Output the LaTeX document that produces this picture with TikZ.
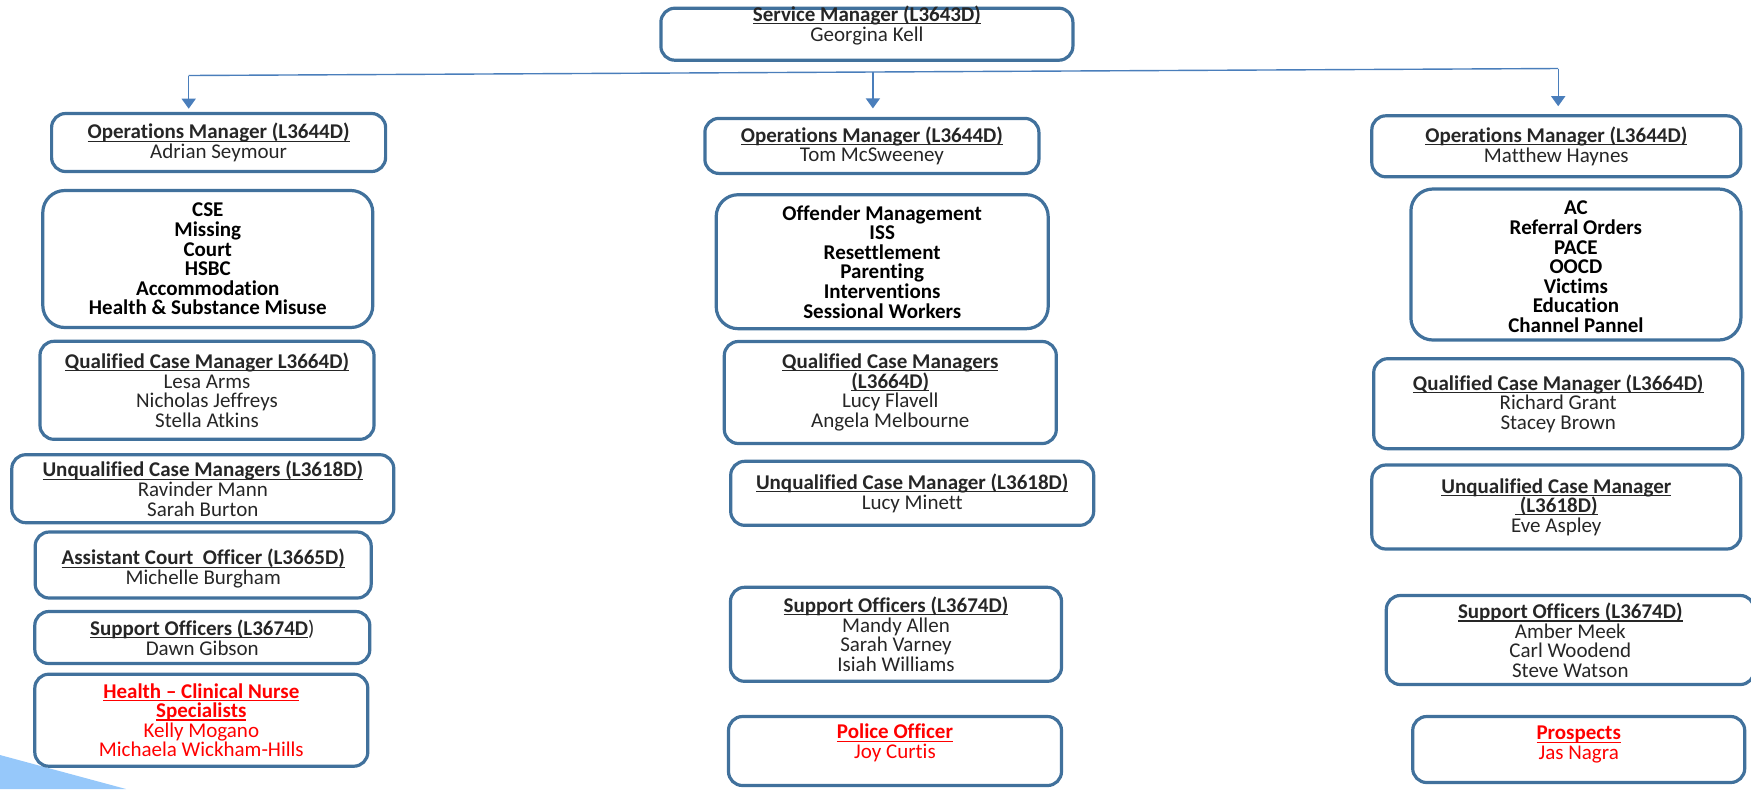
\documentclass[tikz,border=0pt]{standalone}
\usepackage{fontspec}
\setmainfont{Carlito}[Ligatures={TeX,NoCommon}]
\usetikzlibrary{arrows.meta}

\definecolor{rand}{RGB}{65,113,156}
\definecolor{verbind}{RGB}{74,126,187}
\definecolor{hoek}{RGB}{150,200,250}

% vet en onderstreept, streep dicht onder de basislijn
\newcommand{\kop}[1]{\sbox0{\textbf{#1}}\rlap{\rule[-1.4pt]{\wd0}{0.55pt}}\usebox0}

\begin{document}
\begin{tikzpicture}[x=0.5pt,y=-0.5pt,>={Triangle[width=7pt,length=5pt]}]

% --- Stijldefinities ---
\tikzset{
    vak/.style={
        draw=rand,
        line width=1.6pt,
        rounded corners=7pt,
        inner sep=1pt,
        align=center,
        font=\fontsize{10.5}{9.8}\selectfont,
        text=black!85
    },
    taken/.style={
        vak,
        rounded corners=11pt,
        font=\fontsize{10.5}{9.8}\selectfont\bfseries,
        text=black
    },
    rood/.style={text=red},
    lijn/.style={draw=verbind, line width=0.7pt},
    pijl/.style={
        ->,
        lijn
    }
}

\useasboundingbox (0,0) rectangle (1751,789);
\fill[hoek] (0,755) -- (126,789) -- (0,789) -- cycle;

% --- Knooppunten (Nodes) ---
\node[vak, minimum width=206pt, minimum height=26pt, text height=15.4pt, text depth=8.6pt] (sm) at (866.9,34.2)
    {\kop{Service Manager (L3643D)}\\Georgina Kell};

% linker kolom
\node[vak, minimum width=167pt, minimum height=29pt] (omA) at (218.6,142.5) {\kop{Operations Manager (L3644D)}\\Adrian Seymour};
\node[taken, minimum width=165pt, minimum height=68.5pt] (takA) at (207.8,259) {CSE\\Missing\\Court\\HSBC\\Accommodation\\Health \& Substance Misuse};
\node[vak, minimum width=167pt, minimum height=49pt] (qualA) at (207,390.3) {\kop{Qualified Case Manager L3664D)}\\Lesa Arms\\Nicholas Jeffreys\\Stella Atkins};
\node[vak, minimum width=191pt, minimum height=34pt] (unqA) at (202.8,488.7) {\kop{Unqualified Case Managers (L3618D)}\\Ravinder Mann\\Sarah Burton};
\node[vak, minimum width=168pt, minimum height=33pt, text height=22pt, text depth=2.5pt] (hcoA) at (203.2,565) {\kop{Assistant Court~ Officer (L3665D)}\\Michelle Burgham};
\node[vak, minimum width=167.5pt, minimum height=26pt] (ondA) at (202.3,637.5) {\sbox0{\textbf{Support Officers (L3674D}}\rlap{\rule[-1.4pt]{\wd0}{0.55pt}}\usebox0)\\Dawn Gibson};
\node[vak, rood, minimum width=166.5pt, minimum height=46pt] (zorgA) at (201.3,720.2) {\kop{Health – Clinical Nurse}\\\kop{Specialists}\\Kelly Mogano\\Michaela Wickham-Hills};

% middelste kolom
\node[vak, minimum width=167pt, minimum height=27.5pt] (omB) at (871.9,145.9) {\kop{Operations Manager (L3644D)}\\Tom McSweeney};
\node[taken, minimum width=166pt, minimum height=67pt] (takB) at (882.2,261.7) {Offender Management\\ISS\\Resettlement\\Parenting\\Interventions\\Sessional Workers};
\node[vak, minimum width=166pt, minimum height=51pt] (qualB) at (890.3,392.5) {\kop{Qualified Case Managers}\\\kop{(L3664D)}\\Lucy Flavell\\Angela Melbourne};
\node[vak, minimum width=181.5pt, minimum height=32pt] (unqB) at (912.2,493.3) {\kop{Unqualified Case Manager (L3618D)}\\Lucy Minett};
\node[vak, minimum width=165.5pt, minimum height=47pt] (ondB) at (896,634.3) {\kop{Support Officers (L3674D)}\\Mandy Allen\\Sarah Varney\\Isiah Williams};
\node[vak, rood, minimum width=166.5pt, minimum height=34.5pt, text height=20pt, text depth=12.5pt] (polB) at (895,751) {\kop{Police Officer}\\Joy Curtis};

% rechter kolom
\node[vak, minimum width=184.5pt, minimum height=30.5pt] (omC) at (1556.3,146.3) {\kop{Operations Manager (L3644D)}\\Matthew Haynes};
\node[taken, minimum width=165pt, minimum height=75.5pt, text height=70.5pt, text depth=2.6pt] (takC) at (1575.9,264.5) {AC\\Referral Orders\\PACE\\OOCD\\Victims\\Education\\Channel Pannel};
\node[vak, minimum width=184.5pt, minimum height=45pt] (qualC) at (1558.2,403.7) {\kop{Qualified Case Manager (L3664D)}\\Richard Grant\\Stacey Brown};
\node[vak, minimum width=184.5pt, minimum height=42pt] (unqC) at (1556.3,507) {\kop{Unqualified Case Manager}\\\kop{\ (L3618D)}\\Eve Aspley};
\node[vak, minimum width=184pt, minimum height=44.5pt, text height=40pt, text depth=2.5pt] (ondC) at (1570.3,640) {\kop{Support Officers (L3674D)}\\Amber Meek\\Carl Woodend\\Steve Watson};
\node[vak, rood, minimum width=166pt, minimum height=33pt, text height=20.5pt, text depth=10.5pt] (prosC) at (1578.7,749.5) {\kop{Prospects}\\Jas Nagra};

% --- Pijlen ---
\coordinate (busL) at (188.7,75.5);
\coordinate (busM) at (872.9,72);
\coordinate (busR) at (1558.2,68.5);
\draw[lijn] (busL) -- (busR);
\draw[pijl, shorten >=1.6pt] (busL) -- (busL |- omA.north);
\draw[pijl, shorten >=4.2pt] (busM) -- (busM |- omB.north);
\draw[pijl, shorten >=4pt] (busR) -- (busR |- omC.north);
\end{tikzpicture}
\end{document}
